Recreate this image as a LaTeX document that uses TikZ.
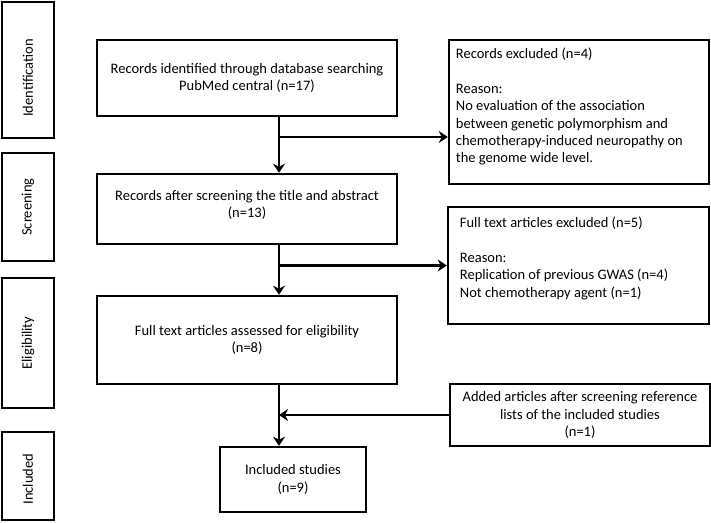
\documentclass[tikz,border=0pt]{standalone}
\usepackage{fontspec}
\setmainfont{Carlito}
\usetikzlibrary{arrows.meta}
\begin{document}
\begin{tikzpicture}[x=1pt,y=-1pt,
  box/.style={draw, line width=2.5pt, inner sep=0pt},
  stage/.style={draw, line width=2.5pt, rotate=90, inner sep=0pt, minimum height=52pt},
  arr/.style={line width=2.5pt, -{Stealth[length=9pt,width=12pt,inset=3pt]}},
  txt/.style={font=\fontsize{14.5}{17.4}\selectfont, align=center},
  ltxt/.style={font=\fontsize{14.5}{17.4}\selectfont, align=left, anchor=north west, inner sep=0pt}
]
\useasboundingbox (0,0) rectangle (711,522);
% stage boxes
\node[stage, minimum width=136pt, txt] (s1) at (28,70) {\hspace*{-16pt}Identification};
\node[stage, minimum width=108pt, txt] (s2) at (28,207) {Screening};
\node[stage, minimum width=130pt, txt] (s3) at (28,343) {Eligibility};
\node[stage, minimum width=88pt, txt] (s4) at (28,476) {\hspace*{-6pt}Included};
% main boxes
\node[box, minimum width=300pt, minimum height=76pt, txt] (b1) at (247,78)
  {Records identified through database searching\\PubMed central (n=17)};
\node[box, minimum width=300pt, minimum height=70pt, txt, text depth=10pt] (b2) at (247,209)
  {Records after screening the title and abstract\\(n=13)};
\node[box, minimum width=300pt, minimum height=88pt, txt] (b3) at (247,340)
  {Full text articles assessed for eligibility\\(n=8)};
\node[box, minimum width=146pt, minimum height=65pt, txt] (b4) at (293,479.5)
  {Included studies\\(n=9)};
% right boxes
\node[box, minimum width=260pt, minimum height=144pt] (ex1) at (579,112) {};
\node[ltxt] (ex1t) at ([xshift=8pt,yshift=-9pt]ex1.north west)
  {Records excluded (n=4)\\[17.4pt]Reason:\\No evaluation of the association\\between genetic polymorphism and\\chemotherapy-induced neuropathy on\\the genome wide level.};
\node[box, minimum width=261pt, minimum height=117pt] (ex2) at (578.5,265.5) {};
\node[ltxt] (ex2t) at ([xshift=13pt,yshift=-11pt]ex2.north west)
  {Full text articles excluded (n=5)\\[17.4pt]Reason:\\Replication of previous GWAS (n=4)\\Not chemotherapy agent (n=1)};
\node[box, minimum width=260pt, minimum height=62pt, txt] (add) at (580,415)
  {Added articles after screening reference\\lists of the included studies\\(n=1)};
% connectors
\coordinate (sp) at (279,0);
\coordinate (j1) at (279,137);
\draw[arr] (sp |- b1.south) -- (sp |- b2.north);
\draw[arr] (j1) -- (j1 -| ex1.west);
\draw[arr] (sp |- b2.south) -- (sp |- b3.north);
\draw[arr] (sp |- ex2.west) -- (ex2.west);
\draw[arr] (sp |- b3.south) -- (sp |- b4.north);
\draw[arr] (add.west) -- (add.west -| sp);
\end{tikzpicture}
\end{document}
